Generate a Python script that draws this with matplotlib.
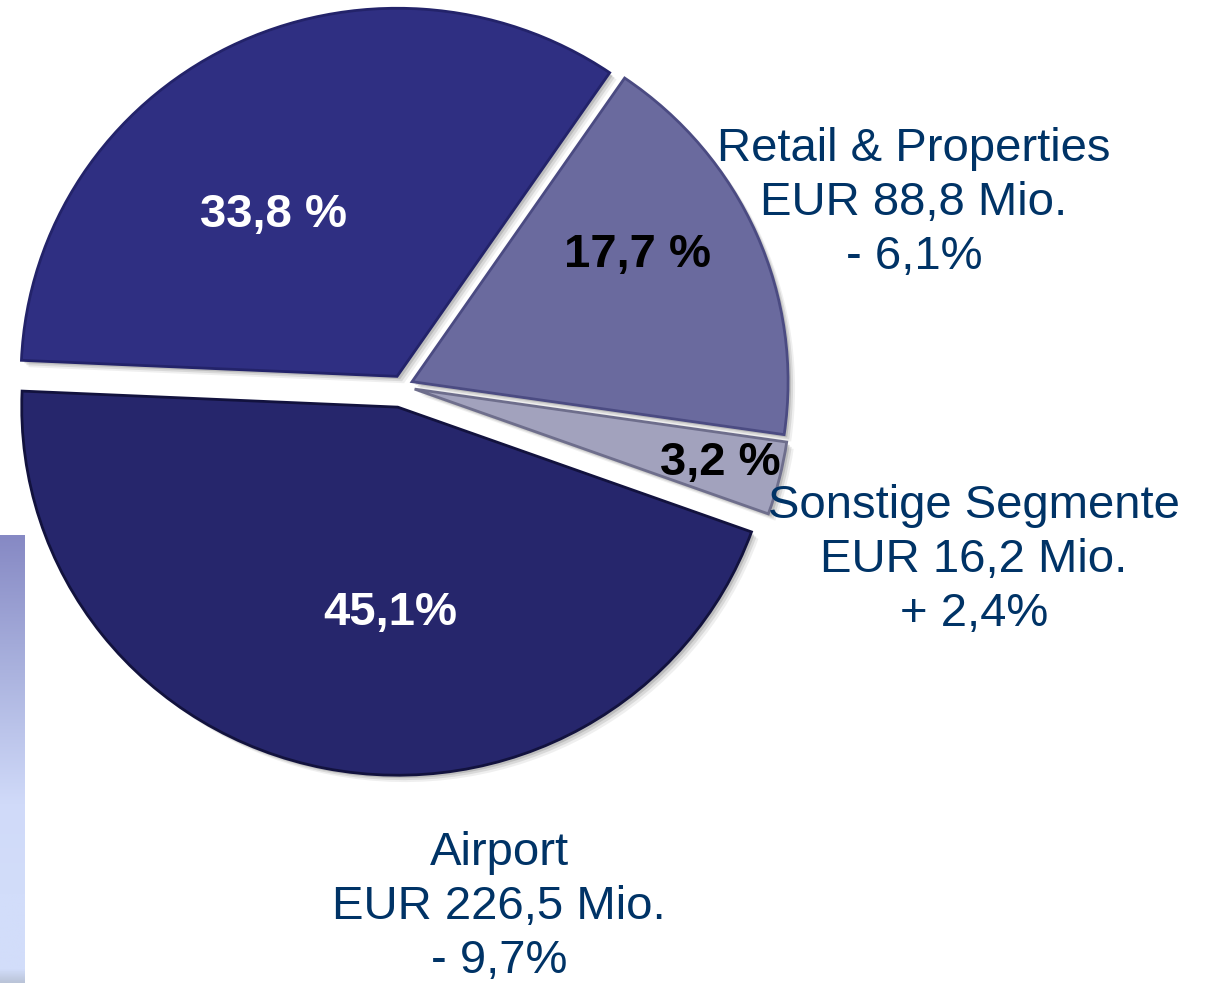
import numpy as np
import matplotlib
matplotlib.use("Agg")
import matplotlib.pyplot as plt
from matplotlib.patches import Rectangle

plt.rcParams['font.family'] = ['Liberation Sans', 'DejaVu Sans']

# data
segments = ['Handling', 'Retail & Properties', 'Sonstige Segmente', 'Airport']
shares = [33.8, 17.7, 3.2, 45.1]
share_labels = ['33,8 %', '17,7 %', '3,2 %', '45,1%']
revenue = ['', 'EUR 88,8 Mio.', 'EUR 16,2 Mio.', 'EUR 226,5 Mio.']
change = ['', '- 6,1%', '+ 2,4%', '- 9,7%']

colors = ['#2f2f82', '#6a6a9e', '#a2a2bd', '#26266c']
edges = ['#23236a', '#4b4b82', '#6e6e8c', '#12123e']
pct_colors = ['white', 'black', 'black', 'white']
explode = [11, 11, 13, 22]   # offset in pixels

W, H = 1207, 983
sy = 0.979   # pie is slightly wider than tall


def Y(yp):
    return (H - yp) / sy


fig = plt.figure(figsize=(W / 100, H / 100), dpi=100)
ax = fig.add_axes([0, 0, 1, 1])

# gradient bar on the left
grad = np.array([[134, 137, 196], [170, 178, 222], [208, 218, 249],
                 [210, 221, 250], [210, 221, 250], [186, 196, 216]]) / 255
pos = np.array([0, 0.3, 0.6, 0.8, 0.97, 1.0])
t = np.linspace(0, 1, 300)
img = np.stack([np.interp(t, pos, grad[:, k]) for k in range(3)], axis=1)
ax.imshow(img[:, None, :], extent=(0, 25, Y(983), Y(535)), aspect='auto', zorder=0)

cx, cy, r = 402, Y(386), 376
start = 177.5

# soft shadow
for off, a in [(7, 0.12), (5, 0.2), (3, 0.3)]:
    sh, _ = ax.pie(shares, explode=explode, radius=r, center=(cx + off, cy - off),
                   startangle=start, counterclock=False, colors=['#808080'] * 4,
                   wedgeprops=dict(linewidth=0, alpha=a), frame=True)
    for w in sh:
        w.set_zorder(1)

wedges, _ = ax.pie(shares, explode=explode, radius=r, center=(cx, cy),
                   startangle=start, counterclock=False, colors=colors,
                   wedgeprops=dict(linewidth=2), frame=True)
for w, ec in zip(wedges, edges):
    w.set_edgecolor(ec)
    w.set_zorder(2)

ax.set_xlim(0, W)
ax.set_ylim(0, H / sy)
ax.set_aspect('auto')
ax.axis('off')

# percentage labels
pct_pos = [(273, 215), (637, 255), (720, 463), (390, 613)]
for lab, (x, y), c in zip(share_labels, pct_pos, pct_colors):
    ax.text(x, Y(y), lab, ha='center', va='center', fontsize=34,
            fontweight='bold', color=c, zorder=5)

# segment labels
seg_pos = [None, (914, 203), (974, 560), (499, 907)]
clip = Rectangle((0, 0), 1180, H / sy, transform=ax.transData)
for name, rev, ch, p in zip(segments, revenue, change, seg_pos):
    if p is None:
        continue
    txt = ax.text(p[0], Y(p[1]), name + '\n' + rev + '\n' + ch, ha='center',
                  va='center', multialignment='center', fontsize=34,
                  color='#003366', linespacing=1.3, zorder=6)
    txt.set_clip_path(clip)

fig.savefig('out.png', dpi=100)
